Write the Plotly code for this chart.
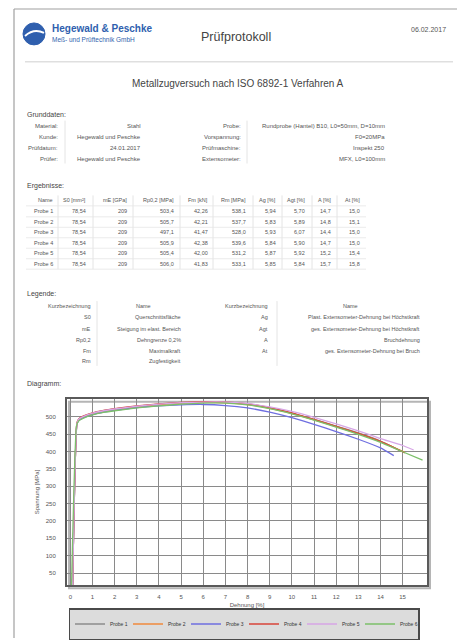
import plotly.graph_objects as go

# the page is shown with an 8px body margin, so the figure is sized/offset for that
OFF = 8
W, H = 465 - OFF, 640 - OFF

# ---------------- data ----------------
probe_names = ["Probe 1", "Probe 2", "Probe 3", "Probe 4", "Probe 5", "Probe 6"]

strain_p1 = [0.10, 0.30, 0.40, 0.60, 1.0, 1.5, 2, 3, 4, 5, 6, 7, 8, 9, 10, 11, 12, 13, 14, 15.0]
stress_p1 = [0, 482, 494, 501, 510, 517, 522, 530, 536, 540, 542, 541, 536, 525, 510, 492, 473, 453, 430, 399]

strain_p2 = [0.10, 0.30, 0.40, 0.60, 1.0, 1.5, 2, 3, 4, 5, 6, 7, 8, 9, 10, 11, 12, 13, 14, 15.1]
stress_p2 = [0, 480, 493, 500, 509, 516, 521, 529, 535, 539, 541, 540, 535, 524, 509, 491, 471, 451, 428, 397]

strain_p3 = [0.10, 0.30, 0.40, 0.60, 1.0, 1.5, 2, 3, 4, 5, 6, 7, 8, 9, 10, 11, 12, 13, 14, 14.6]
stress_p3 = [0, 478, 490, 497, 506, 513, 518, 526, 531, 534, 535, 532, 525, 513, 497, 478, 457, 435, 410, 388]

strain_p4 = [0.10, 0.30, 0.40, 0.60, 1.0, 1.5, 2, 3, 4, 5, 6, 7, 8, 9, 10, 11, 12, 13, 14, 15.1]
stress_p4 = [0, 483, 495, 502, 511, 518, 523, 531, 537, 541, 543, 542, 537, 526, 511, 492, 472, 452, 429, 396]

strain_p5 = [0.10, 0.30, 0.40, 0.60, 1.0, 1.5, 2, 3, 4, 5, 6, 7, 8, 9, 10, 11, 12, 13, 14, 15, 15.5]
stress_p5 = [0, 481, 494, 501, 510, 517, 522, 530, 536, 540, 542, 542, 538, 528, 515, 498, 479, 459, 437, 417, 404]

strain_p6 = [0.05, 0.28, 0.38, 0.60, 1.0, 1.5, 2, 3, 4, 5, 6, 7, 8, 9, 10, 11, 12, 13, 14, 15, 15.9]
stress_p6 = [0, 474, 488, 496, 505, 512, 517, 525, 531, 536, 539, 539, 534, 523, 508, 490, 470, 449, 426, 399, 375]

probe_strains = [strain_p1, strain_p2, strain_p3, strain_p4, strain_p5, strain_p6]
probe_stresses = [stress_p1, stress_p2, stress_p3, stress_p4, stress_p5, stress_p6]
probe_colors = ["#8c8c8c", "#f08a3c", "#6f6fe0", "#d9453a", "#d7a6e6", "#7cc06a"]

x_ticks = list(range(0, 16))
y_ticks = [50, 100, 150, 200, 250, 300, 350, 400, 450, 500]

# document texts
grund_left_labels = ["Material:", "Kunde:", "Prüfdatum:", "Prüfer:"]
grund_left_values = ["Stahl", "Hegewald und Peschke", "24.01.2017", "Hegewald und Peschke"]
grund_right_labels = ["Probe:", "Vorspannung:", "Prüfmaschine:", "Extensometer:"]
grund_right_values = ["Rundprobe (Hantel) B10, L0=50mm, D=10mm", "F0=20MPa", "Inspekt 250", "MFX, L0=100mm"]

result_header = ["Name", "S0 [mm²]", "mE [GPa]", "Rp0,2 [MPa]", "Fm [kN]", "Rm [MPa]",
                 "Ag [%]", "Agt [%]", "A [%]", "At [%]"]
result_rows = [
    ["Probe 1", "78,54", "209", "503,4", "42,26", "538,1", "5,94", "5,70", "14,7", "15,0"],
    ["Probe 2", "78,54", "209", "505,7", "42,21", "537,7", "5,83", "5,89", "14,8", "15,1"],
    ["Probe 3", "78,54", "209", "497,1", "41,47", "528,0", "5,93", "6,07", "14,4", "15,0"],
    ["Probe 4", "78,54", "209", "505,9", "42,38", "539,6", "5,84", "5,90", "14,7", "15,0"],
    ["Probe 5", "78,54", "209", "505,4", "42,00", "531,2", "5,87", "5,92", "15,2", "15,4"],
    ["Probe 6", "78,54", "209", "506,0", "41,83", "533,1", "5,85", "5,84", "15,7", "15,8"],
]

legend_left_abbr = ["S0", "mE", "Rp0,2", "Fm", "Rm"]
legend_left_names = ["Querschnittsfläche", "Steigung im elast. Bereich", "Dehngrenze 0,2%",
                     "Maximalkraft", "Zugfestigkeit"]
legend_right_abbr = ["Ag", "Agt", "A", "At"]
legend_right_names = ["Plast. Extensometer-Dehnung bei Höchstkraft",
                      "ges. Extensometer-Dehnung bei Höchstkraft",
                      "Bruchdehnung",
                      "ges. Extensometer-Dehnung bei Bruch"]


# ---------------- helpers (reference pixel coords -> paper) ----------------
def px(x):
    return (x - OFF) / W


def py(y):
    return 1 - (y - OFF) / H


TXT = "#555555"
FONT = "Liberation Sans, Arial, sans-serif"
annotations = []
shapes = []


def text(x, y, s, size=6, anchor="left", color=TXT, bold=False):
    if bold:
        s = "<b>" + s + "</b>"
    annotations.append(dict(x=px(x), y=py(y), xref="paper", yref="paper", text=s,
                            showarrow=False, xanchor=anchor, yanchor="middle",
                            font=dict(size=size, color=color, family=FONT)))


def hline(x0, x1, y, color="#dddddd", width=0.8):
    shapes.append(dict(type="line", xref="paper", yref="paper", x0=px(x0), x1=px(x1),
                       y0=py(y), y1=py(y), line=dict(color=color, width=width)))


def vline(x, y0, y1, color="#dddddd", width=0.8):
    shapes.append(dict(type="line", xref="paper", yref="paper", x0=px(x), x1=px(x),
                       y0=py(y0), y1=py(y1), line=dict(color=color, width=width)))


# ---------------- figure ----------------
fig = go.Figure()
for name, xs, ys, col in zip(probe_names, probe_strains, probe_stresses, probe_colors):
    fig.add_trace(go.Scatter(x=xs, y=ys, mode="lines", name=name,
                             line=dict(color=col, width=1.3, shape="spline", smoothing=0.4)))

# page frame
hline(14, 465, 9, color="#a0a0a0", width=1.2)
vline(14, 9, 640, color="#a0a0a0", width=1.2)

# logo
shapes.append(dict(type="circle", xref="paper", yref="paper", x0=px(23), x1=px(45),
                   y0=py(45), y1=py(23), fillcolor="#2f5fae", line=dict(color="#2f5fae", width=1)))
shapes.append(dict(type="path", xref="paper", yref="paper",
                   path=f"M {px(25)} {py(36)} Q {px(34)} {py(28)} {px(44)} {py(33)}",
                   line=dict(color="white", width=2)))
text(50, 29, "Hegewald & Peschke", size=10, color="#2f5fae", bold=True)
text(50, 40, "Meß- und Prüftechnik GmbH", size=6.5, color="#2f5fae")
text(236, 37, "Prüfprotokoll", size=12.5, anchor="center", color="#444444")
text(448, 30, "06.02.2017", size=7, anchor="right", color="#555555")
hline(25, 453, 62, color="#cfcfcf", width=1)

text(238, 84, "Metallzugversuch nach ISO 6892-1 Verfahren A", size=10, anchor="center", color="#444444")

# Grunddaten
text(25, 115, "Grunddaten:", size=7, color="#444444")
g_rows_y = [126, 137, 148, 159]
for i, yy in enumerate(g_rows_y):
    text(60, yy, grund_left_labels[i], size=6, anchor="right")
    text(143, yy, grund_left_values[i], size=6, anchor="right")
    text(243, yy, grund_right_labels[i], size=6, anchor="right")
    text(387, yy, grund_right_values[i], size=6, anchor="right")
vline(65, 121, 164)
vline(247, 121, 164)

# Ergebnisse
text(25, 187, "Ergebnisse:", size=7, color="#444444")
col_right = [55, 88, 129, 176, 210, 248, 278, 307, 333, 362]
col_sep = [58, 93, 133, 180, 213, 253, 282, 312, 337]
r_header_y = 201
r_rows_y = [212, 223, 233, 244, 254, 265]
for c, lab in enumerate(result_header):
    text(col_right[c], r_header_y, lab, size=5.5, anchor="right")
for r, row in enumerate(result_rows):
    for c, val in enumerate(row):
        text(col_right[c], r_rows_y[r], val, size=5.5, anchor="right")
for xs in col_sep:
    vline(xs, 196, 270)
for yy in [206.5, 217.5, 228, 238.5, 249, 259.5, 270]:
    hline(26, 366, yy, color="#e6e6e6")

# Legende
text(25, 295, "Legende:", size=7, color="#444444")
lg_header_y = 307
text(93, lg_header_y, "Kurzbezeichnung", size=5.5, anchor="right")
text(143, lg_header_y, "Name", size=5.5, anchor="center")
text(270, lg_header_y, "Kurzbezeichnung", size=5.5, anchor="right")
text(350, lg_header_y, "Name", size=5.5, anchor="center")
lg_rows_y = [318, 330, 341, 352, 362]
for i, yy in enumerate(lg_rows_y):
    text(93, yy, legend_left_abbr[i], size=5.5, anchor="right")
    text(183, yy, legend_left_names[i], size=5.5, anchor="right")
for i in range(len(legend_right_abbr)):
    yy = lg_rows_y[i]
    text(270, yy, legend_right_abbr[i], size=5.5, anchor="right")
    text(422, yy, legend_right_names[i], size=5.5, anchor="right")
vline(97, 302, 367)
vline(277, 302, 367)

# Diagramm
text(25, 385, "Diagramm:", size=7, color="#444444")

# plot shadow
shapes.append(dict(type="rect", xref="paper", yref="paper", x0=px(69), x1=px(430),
                   y0=py(590), y1=py(403), line=dict(color="#b5b5b5", width=2),
                   layer="below"))

fig.update_layout(
    width=W, height=H,
    margin=dict(l=0, r=0, t=0, b=0),
    paper_bgcolor="white",
    plot_bgcolor="white",
    font=dict(family=FONT, size=6, color=TXT),
    showlegend=True,
    legend=dict(orientation="h", x=px(244), y=py(626), xanchor="center", yanchor="middle",
                bgcolor="#dcdcdc", bordercolor="#4a4a4a", borderwidth=1.5,
                font=dict(size=5, color="#333333"), itemwidth=30,
                tracegroupgap=0, entrywidth=13, entrywidthmode="pixels"),
    xaxis=dict(domain=[px(67), px(427)], range=[-0.15, 16.1],
               tickvals=x_ticks, ticktext=[str(v) for v in x_ticks],
               showgrid=True, gridcolor="#8a8a8a", gridwidth=1.3,
               zeroline=False, showline=True, linecolor="#5a5a5a", linewidth=2, mirror=True,
               ticks="", ticklabelstandoff=5,
               tickfont=dict(size=6, color="#555555"),
               title=dict(text="Dehnung [%]", font=dict(size=6, color="#555555"), standoff=3)),
    yaxis=dict(domain=[py(587), py(400)], range=[15, 551.5],
               tickvals=y_ticks, ticktext=[str(v) for v in y_ticks],
               showgrid=True, gridcolor="#8a8a8a", gridwidth=1.3,
               zeroline=False, showline=True, linecolor="#5a5a5a", linewidth=2, mirror=True,
               ticks="", ticklabelstandoff=8,
               tickfont=dict(size=6, color="#555555"),
               title=dict(text="Spannung [MPa]", font=dict(size=6, color="#555555"), standoff=6)),
    annotations=annotations,
    shapes=shapes,
)

fig.write_html("out.html")
